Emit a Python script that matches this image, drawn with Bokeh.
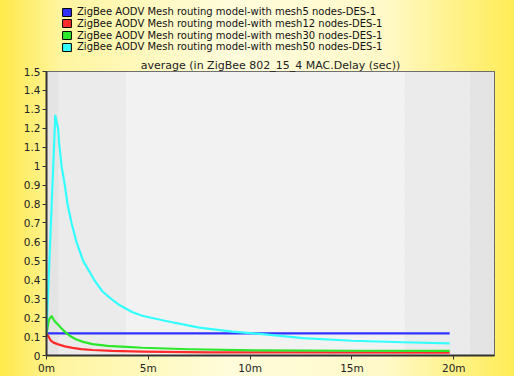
from bokeh.plotting import figure
from bokeh.layouts import column
from bokeh.models import Legend, LegendItem, FixedTicker, BoxAnnotation
from bokeh.embed import file_html
from bokeh.resources import INLINE

# ---- data (minutes, seconds) ----
series_names = [
    "ZigBee AODV Mesh routing model-with mesh5 nodes-DES-1",
    "ZigBee AODV Mesh routing model-with mesh12 nodes-DES-1",
    "ZigBee AODV Mesh routing model-with mesh30 nodes-DES-1",
    "ZigBee AODV Mesh routing model-with mesh50 nodes-DES-1",
]
mesh5_t = [0.0, 19.8]
mesh5_y = [0.117, 0.117]
mesh12_t = [0.0, 0.1, 0.2, 0.35, 0.54, 0.9, 1.28, 1.7, 2.26, 3.2, 4.7, 8.0, 12.0, 19.8]
mesh12_y = [0.113, 0.1, 0.08, 0.068, 0.06, 0.048, 0.04, 0.034, 0.029, 0.024, 0.02, 0.017, 0.016, 0.015]
mesh30_t = [0.0, 0.12, 0.25, 0.35, 0.45, 0.6, 0.7, 0.95, 1.2, 1.44, 1.8, 2.26, 3.0, 3.9, 4.7,
            7.0, 10.6, 15.0, 19.8]
mesh30_y = [0.115, 0.19, 0.208, 0.19, 0.175, 0.16, 0.147, 0.121, 0.1, 0.086, 0.072, 0.06, 0.051,
            0.046, 0.041, 0.033, 0.027, 0.025, 0.024]
mesh50_t = [0.0, 0.43, 0.57, 0.62, 0.74, 0.9, 1.03, 1.23, 1.47, 1.8, 2.34, 2.75, 3.16, 3.6, 4.23,
            4.7, 5.86, 7.5, 9.14, 10.6, 12.6, 15.0, 17.5, 19.8]
mesh50_y = [0.12, 1.267, 1.2, 1.12, 1.0, 0.9, 0.8, 0.7, 0.6, 0.5, 0.4, 0.338, 0.3, 0.265, 0.228,
            0.21, 0.182, 0.147, 0.126, 0.113, 0.092, 0.078, 0.07, 0.064]

x_ticks = [0, 5, 10, 15, 20]
x_labels = ["0m", "5m", "10m", "15m", "20m"]
y_ticks = [0, 0.1, 0.2, 0.3, 0.4, 0.5, 0.6, 0.7, 0.8, 0.9, 1.0, 1.1, 1.2, 1.3, 1.4, 1.5]
y_labels = ["0", "0.1", "0.2", "0.3", "0.4", "0.5", "0.6", "0.7", "0.8", "0.9",
            "1", "1.1", "1.2", "1.3", "1.4", "1.5"]
chart_title = "average (in ZigBee 802_15_4 MAC.Delay (sec))"

colors = ["#3030ff", "#ff2a2a", "#2ce82c", "#33ffff"]

# background shading bands (style only)
bands = [(0, 0.6, "#e4e4e4"), (0.6, 3.9, "#ebebeb"), (3.9, 17.6, "#f2f2f2"),
         (17.6, 20.8, "#ebebeb"), (20.8, 22, "#e4e4e4")]

FONT = "DejaVu Sans"
GRADIENT = {"background": "linear-gradient(90deg, #ffe94a 0%, #fff5a0 12%, #fffcdc 45%, #fff9c8 75%, #ffec55 100%)"}

# ---------- main chart ----------
p = figure(width=514, height=320, output_backend="svg", toolbar_location=None,
           x_range=(0, 22), y_range=(0, 1.5), title=chart_title,
           min_border_left=46, min_border_right=20, min_border_top=13, min_border_bottom=19)
p.border_fill_color = None
p.styles = GRADIENT
p.background_fill_color = "#f2f2f2"
p.outline_line_color = "#444444"
p.outline_line_width = 1

for l, r, c in bands:
    p.add_layout(BoxAnnotation(left=l, right=r, fill_color=c, fill_alpha=1, line_alpha=0, level="underlay"))

p.title.align = "center"
p.title.text_font = FONT
p.title.text_font_size = "11px"
p.title.text_font_style = "normal"
p.title.text_color = "#222222"
p.title.standoff = 0
p.title.offset = 0

p.xgrid.visible = False
p.ygrid.ticker = FixedTicker(ticks=y_ticks)
p.ygrid.grid_line_color = "#a0a0a0"
p.ygrid.grid_line_width = 1

p.xaxis.ticker = FixedTicker(ticks=x_ticks)
p.xaxis.major_label_overrides = {tk: s for tk, s in zip(x_ticks, x_labels)}
p.yaxis.ticker = FixedTicker(ticks=y_ticks)
p.yaxis.major_label_overrides = {tk: s for tk, s in zip(y_ticks, y_labels)}
for ax in (p.xaxis, p.yaxis):
    ax.axis_line_color = "#333333"
    ax.axis_line_width = 2
    ax.major_tick_line_color = "#333333"
    ax.major_tick_in = 0
    ax.major_tick_out = 4
    ax.minor_tick_line_color = None
    ax.major_label_text_font = FONT
    ax.major_label_text_font_size = "10.5px"
    ax.major_label_text_color = "#222222"
    ax.major_label_standoff = 2

for tt, yy, c in zip([mesh5_t, mesh12_t, mesh30_t, mesh50_t],
                     [mesh5_y, mesh12_y, mesh30_y, mesh50_y], colors):
    p.line(tt, yy, line_color=c, line_width=2.2, line_join="round")

# ---------- legend strip on top ----------
lg = figure(width=514, height=56, output_backend="svg", toolbar_location=None,
            x_axis_type=None, y_axis_type=None, x_range=(0, 1), y_range=(0, 1),
            min_border_left=0, min_border_right=0, min_border_top=0, min_border_bottom=0)
lg.border_fill_color = None
lg.background_fill_color = None
lg.outline_line_color = None
lg.grid.visible = False
lg.styles = GRADIENT

ROW_PITCH = 11.7
FIRST_ROW_OFFSET = 38.9
for i, (name, c) in enumerate(zip(series_names, colors)):
    # off-screen swatch renderer used only for the legend glyph
    r = lg.quad(left=[float("nan")], right=[float("nan")], top=[float("nan")], bottom=[float("nan")],
                fill_color=c, line_color="#000000", line_width=1)
    legend = Legend(items=[LegendItem(label=name, renderers=[r])],
                    location=(15, FIRST_ROW_OFFSET - ROW_PITCH * i), orientation="vertical")
    legend.background_fill_alpha = 0
    legend.border_line_color = None
    legend.padding = 0
    legend.margin = 0
    legend.spacing = 0
    legend.label_height = 11
    legend.glyph_height = 10
    legend.glyph_width = 11
    legend.label_standoff = 5
    legend.label_text_font = FONT
    legend.label_text_font_size = "10px"
    legend.label_text_color = "#111111"
    lg.add_layout(legend, "center")

layout = column(lg, p, spacing=0)
open("out.html", "w").write(file_html(layout, INLINE))
